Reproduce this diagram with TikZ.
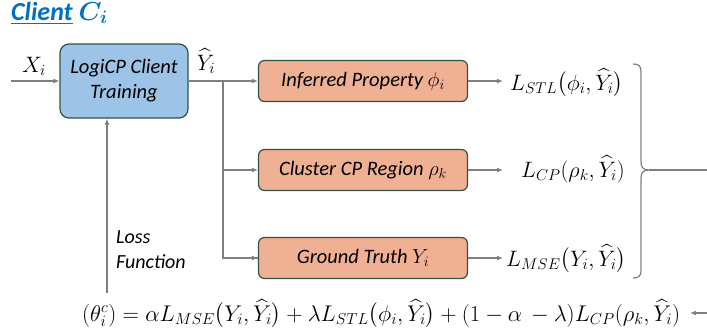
\RequirePackage{fix-cm}
\documentclass[tikz,border=0pt]{standalone}
\usepackage{amsmath}
\usepackage{fontspec}
\newfontfamily\calib{Carlito}
\usetikzlibrary{arrows.meta}
\definecolor{bluefill}{HTML}{9DC3E6}
\definecolor{orangefill}{HTML}{F0B094}
\definecolor{boxborder}{HTML}{2F5446}
\definecolor{linegray}{HTML}{7F7F7F}
\definecolor{titleblue}{HTML}{0070C0}
\tikzset{
  conn/.style={draw=linegray, line width=1.3pt, -{Latex[length=6pt,width=5pt]}},
  plain/.style={draw=linegray, line width=1.3pt},
  bluebox/.style={draw=boxborder, line width=1.2pt, fill=bluefill, rounded corners=9pt,
    minimum width=128pt, minimum height=74pt, inner sep=0pt, align=center,
    font=\calib\itshape\fontsize{20.5}{25}\selectfont},
  orangebox/.style={draw=boxborder, line width=1.2pt, fill=orangefill, rounded corners=6pt,
    minimum width=209pt, minimum height=41pt, inner sep=0pt,
    font=\calib\itshape\fontsize{20.5}{24}\selectfont},
  mathlbl/.style={inner sep=0pt, font=\fontsize{22.3}{26}\selectfont},
  txtlbl/.style={inner sep=0pt, align=left, font=\calib\itshape\fontsize{20}{25}\selectfont},
}
\begin{document}
\begin{tikzpicture}[x=1pt,y=-1pt]
\useasboundingbox (0,0) rectangle (707,335);
% title
\node[anchor=base west, inner sep=0pt, text=titleblue, font=\calib\bfseries\itshape\fontsize{26}{30}\selectfont] (title) at (11,20)
  {\underline{Client}~{\boldmath$C_i$}};
% main blue box
\node[bluebox] (train) at (124,81) {LogiCP Client\\Training};
\coordinate (xin) at (11,81);
\draw[conn] (xin) -- (train.west);
\node[mathlbl, anchor=base] (xlbl) at (34,72) {$X_i$};
% orange boxes
\node[orangebox] (prop) at (363,81) {Inferred Property $\phi_i$};
\node[orangebox] (clus) at (363,170) {Cluster CP Region $\rho_k$};
\node[orangebox] (gt) at (363,258) {Ground Truth $Y_i$};
\node[mathlbl, anchor=base] (yhat) at (206,70) {$\widehat{Y}_i$};
\coordinate (br) at (223,81);
\draw[conn] (train.east) -- (prop.west);
\draw[plain] (br) |- (gt.west);
\draw[conn] (br |- clus.west) -- (clus.west);
\draw[conn] (br |- gt.west) -- (gt.west);
% loss labels
\node[mathlbl, anchor=base west] (lstl) at (510,90) {$L_{STL}\bigl(\phi_i,\widehat{Y}_i\bigr)$};
\node[mathlbl, anchor=base west] (lcp) at (521,177) {$L_{CP}(\rho_k,\widehat{Y}_i)$};
\node[mathlbl, anchor=base west] (lmse) at (506,266) {$L_{MSE}\bigl(Y_i,\widehat{Y}_i\bigr)$};
\coordinate (t1) at (503,81);
\coordinate (t2) at (503,170);
\coordinate (t3) at (503,258);
\draw[conn] (prop.east) -- (t1);
\draw[conn] (clus.east) -- (t2);
\draw[conn] (gt.east) -- (t3);
% brace
\coordinate (btip) at (649,170);
\coordinate (bout) at (707,170);
\draw[linegray, line width=1.2pt]
  (633,64) .. controls (639,64) and (641,66) .. (641,72) -- (641,162)
  .. controls (641,168) and (644,170) .. (649,170)
  .. controls (644,170) and (641,172) .. (641,178) -- (641,270)
  .. controls (641,276) and (639,278) .. (633,278);
\draw[plain] (btip) -- (bout);
% formula
\node[mathlbl, anchor=base west, font=\fontsize{22.7}{26}\selectfont] (formula) at (82,321)
  {$(\theta_i^c) = \alpha L_{MSE}\bigl(Y_i,\widehat{Y}_i\bigr) + \lambda L_{STL}\bigl(\phi_i,\widehat{Y}_i\bigr) + (1-\alpha\,-\lambda)L_{CP}(\rho_k,\widehat{Y}_i)$};
\coordinate (fin) at (707,313);
\coordinate (ftip) at (690,313);
\draw[conn] (fin) -- (ftip);
% loss function feedback
\coordinate (lossbot) at (107,293);
\draw[conn] (lossbot) -- (lossbot |- train.south);
\node[txtlbl, anchor=west] (losslbl) at (116,250) {Loss\\Function};
\end{tikzpicture}
\end{document}
